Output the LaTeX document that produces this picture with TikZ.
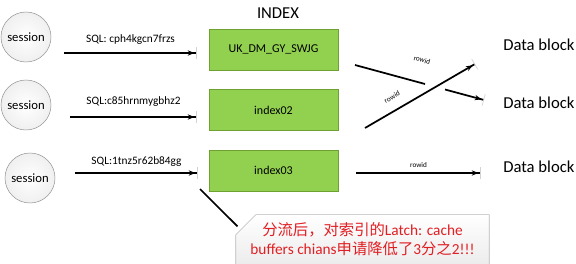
\documentclass[tikz,border=0pt]{standalone}
\usepackage{fontspec}
\setmainfont{Carlito}
\newfontfamily\cjk{Noto Sans CJK SC}
\definecolor{idxgreen}{RGB}{146,208,80}
\definecolor{idxedge}{RGB}{110,160,50}
\definecolor{notered}{RGB}{225,30,35}
\definecolor{ringgray}{RGB}{150,150,150}
\usetikzlibrary{arrows.meta,positioning,shapes.misc,calc}

\begin{document}
\begin{tikzpicture}[x=0.75pt,y=-0.75pt,
  session/.style={circle,draw=ringgray,inner color=white,outer color=gray!12,minimum size=37.5pt,inner sep=0pt,font=\fontsize{9.5}{11}\selectfont},
  idxbox/.style={draw=idxedge,fill=idxgreen,minimum width=96.75pt,minimum height=30.75pt,font=\fontsize{9}{11}\selectfont},
  blk/.style={anchor=west,inner sep=0pt,font=\fontsize{12.5}{15}\selectfont},
  sqllbl/.style={font=\fontsize{8.5}{10}\selectfont,inner sep=1pt},
  rowlbl/.style={font=\fontsize{5.4}{6}\selectfont,inner sep=1pt},
  wire/.style={line width=1.3pt},
  arr/.style={wire,-{Stealth[length=5pt,width=4pt,sep=1.5pt]Bar[color=gray!35,width=9pt,line width'=0.5pt]}},
  note/.style={chamfered rectangle,chamfered rectangle corners=north west,chamfered rectangle xsep=9pt,chamfered rectangle ysep=6pt,draw=gray!55,top color=white,bottom color=gray!15,minimum width=185pt,minimum height=26pt,inner xsep=2pt,inner ysep=0pt,align=center,text=notered,font=\fontsize{11.5}{14.5}\selectfont}]
  \useasboundingbox (0,0) rectangle (576,264);
  % sessions
  \node[session] (s1) at (26,37) {session};
  \node[session] (s2) at (26,105) {session};
  \node[session] (s3) at (30,178) {session};
  % index column
  \node[font=\fontsize{12.5}{15}\selectfont] (ttl) at (278,13) {INDEX};
  \node[idxbox] (i1) at (273.5,49.5) {UK\_DM\_GY\_SWJG};
  \node[idxbox] (i2) at (273.5,110) {index02};
  \node[idxbox] (i3) at (273.5,170.5) {index03};
  % data blocks
  \node[blk] (b1) at (503,45) {Data block};
  \node[blk] (b2) at (503,103) {Data block};
  \node[blk] (b3) at (503,167) {Data block};
  % sql arrows
  \coordinate (q1s) at (64,53);  \coordinate (q1e) at (197,53);
  \coordinate (q2s) at (70,117); \coordinate (q2e) at (197,117);
  \coordinate (q3s) at (75,173); \coordinate (q3e) at (198,173);
  \draw[arr] (q1s) -- (q1e) node[midway,sqllbl,above=4.5pt] (l1) {SQL: cph4kgcn7frzs};
  \draw[arr] (q2s) -- (q2e) node[midway,sqllbl,above=6.5pt] (l2) {SQL:c85hrnmygbhz2};
  \draw[arr] (q3s) -- (q3e) node[midway,sqllbl,above=3pt] (l3) {SQL:1tnz5r62b84gg};
  % rowid arrows
  \coordinate (r1s) at (355,65);  \coordinate (r1g) at (425,84);
  \coordinate (r1h) at (445,89.5); \coordinate (r1e) at (484,100);
  \coordinate (r2s) at (365,128); \coordinate (r2e) at (475,64);
  \coordinate (r3s) at (356,173); \coordinate (r3e) at (481,173);
  \draw[wire] (r1s) -- (r1g);
  \draw[arr] (r1h) -- (r1e);
  \draw[arr] (r2s) -- (r2e);
  \draw[arr] (r3s) -- (r3e) node[midway,rowlbl,above=2.5pt] (w3) {rowid};
  \node[rowlbl,rotate=-15] (w1) at (422,60) {rowid};
  \node[rowlbl,rotate=30] (w2) at (392,97) {rowid};
  % callout
  \node[note] (nt) at (362.5,239.5) {{\cjk 分流后，对索引的}Latch: cache\\buffers chians{\cjk 申请降低了}3{\cjk 分之}2!!!};
  \coordinate (tip) at (200,189);
  \draw[wire] (tip) -- ($(nt.west |- nt.north)+(2,12)$);
\end{tikzpicture}
\end{document}
